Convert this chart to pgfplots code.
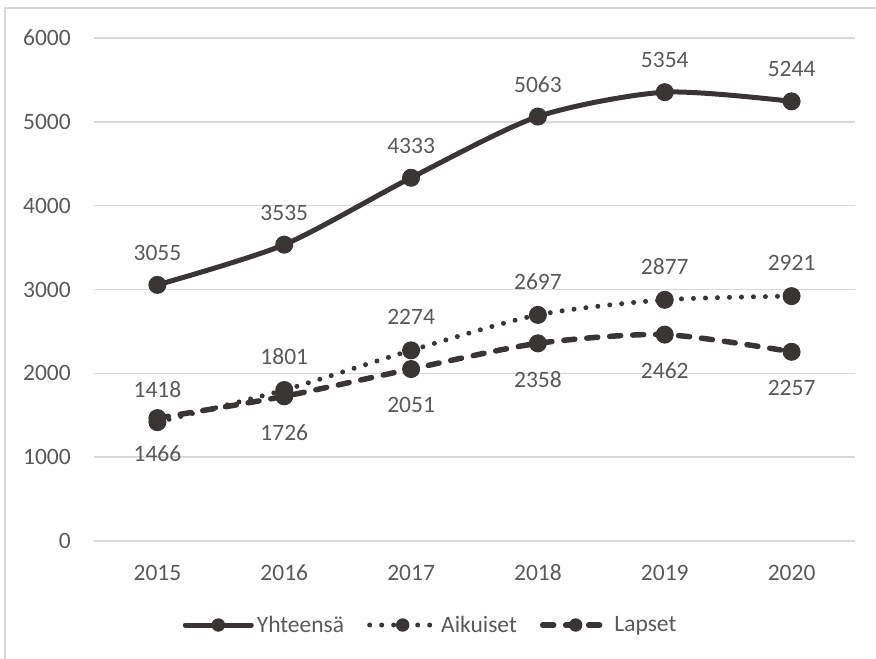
\documentclass[border=0pt]{standalone}
\usepackage{fontspec}
\setmainfont{Carlito}
\usepackage{pgfplots}
\pgfplotsset{compat=1.18}
\definecolor{ln}{HTML}{3A3535}
\definecolor{tx}{HTML}{595959}
\definecolor{gr}{HTML}{D9D9D9}
\newcommand{\lf}{\fontsize{23.5}{28}\selectfont}
\begin{document}
\begin{tikzpicture}
\useasboundingbox (0pt,0pt) rectangle (876pt,-659pt);
\draw[gr, line width=1.5pt] (5pt,-659pt) -- (5pt,-8pt) -- (876pt,-8pt);
\begin{axis}[
  at={(94pt,-541pt)}, anchor=south west, scale only axis,
  width=761pt, height=503pt,
  xmin=2014.5, xmax=2020.5, ymin=0, ymax=6000,
  xtick={2015,2016,2017,2018,2019,2020},
  ytick={0,1000,2000,3000,4000,5000,6000},
  /pgf/number format/1000 sep={},
  /pgf/number format/assume math mode=true,
  axis line style={draw=none},
  major tick length=0pt,
  ymajorgrids, grid style={gr, line width=1.5pt},
  tick label style={font=\lf, text=tx, inner sep=0pt},
  xticklabel style={anchor=center, yshift=-32pt},
  yticklabel style={anchor=east, xshift=-23pt},
  nodes near coords,
  every node near coord/.append style={font=\lf, text=tx, inner sep=0pt, anchor=center},
  legend columns=3,
  legend style={at={(0.443,-0.167)}, anchor=center, draw=none, fill=none,
    font=\lf, text=tx,
    /tikz/every even column/.append style={column sep=20pt},
    nodes={inner sep=3pt}},
  legend image code/.code={%
    \draw[mark repeat=2, mark phase=2, mark size=6.2pt] plot coordinates {(0pt,0pt) (33pt,0pt) (66pt,0pt)};},
]
\addplot[ln, line width=5pt, line cap=round, smooth, tension=0.45,
  mark=*, mark size=8.5pt, mark options={solid, fill=ln, line width=1pt},
  every node near coord/.append style={yshift=32pt}]
  coordinates {(2015,3055) (2016,3535) (2017,4333) (2018,5063) (2019,5354) (2020,5244)};
\addlegendentry{Yhteensä}
\addplot[ln, line width=5pt, line cap=round, dash pattern=on 0pt off 12pt, smooth, tension=0.45,
  mark=*, mark size=8.5pt, mark options={solid, fill=ln, line width=1pt},
  every node near coord/.append style={yshift=33pt}]
  coordinates {(2015,1418) (2016,1801) (2017,2274) (2018,2697) (2019,2877) (2020,2921)};
\addlegendentry{Aikuiset}
\addplot[ln, line width=5.5pt, line cap=round, dash pattern=on 11pt off 12pt, smooth, tension=0.45,
  mark=*, mark size=8.5pt, mark options={solid, fill=ln, line width=1pt},
  every node near coord/.append style={yshift=-36pt}]
  coordinates {(2015,1466) (2016,1726) (2017,2051) (2018,2358) (2019,2462) (2020,2257)};
\addlegendentry{Lapset}
\end{axis}
\end{tikzpicture}
\end{document}
